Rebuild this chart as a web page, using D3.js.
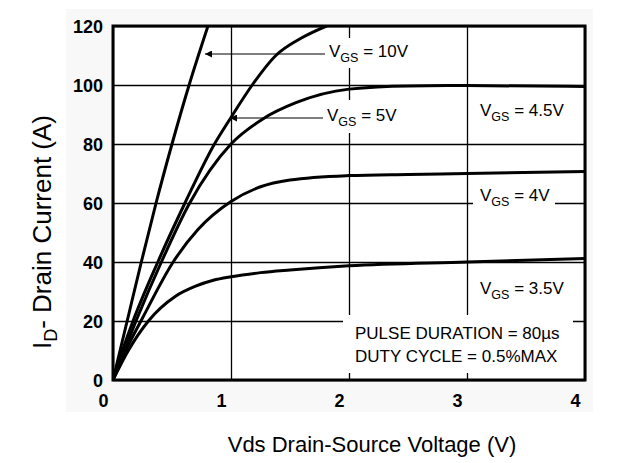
<!DOCTYPE html>
<html><head><meta charset="utf-8">
<script src="https://cdn.jsdelivr.net/npm/d3@7"></script>
<style>body{margin:0;background:#fff}svg{display:block}text{font-family:"Liberation Sans",Arial,sans-serif}</style>
</head><body><svg id="c" width="628" height="463"></svg>
<script>
// ---- data ----
const xTicks = [0, 1, 2, 3, 4];
const yTicks = [0, 20, 40, 60, 80, 100, 120];
const vds10 = [0, 0.12, 0.24, 0.365, 0.50, 0.645, 0.805];
const id10  = [0, 20, 40, 60, 80, 100, 120];
const vds5  = [0, 0.08, 0.17, 0.38, 0.61, 0.86, 1.0, 1.18, 1.38, 1.6, 1.81];
const id5   = [0, 10, 20, 40, 60, 80, 89, 100, 110, 116, 120];
const vds45 = [0, 0.1, 0.2, 0.41, 0.65, 1.0, 1.27, 1.55, 2.0, 2.5, 3.0, 4.0];
const id45  = [0, 10.5, 20.5, 40, 60, 80, 88.5, 94, 98.6, 99.7, 99.8, 99.5];
const vds4  = [0, 0.12, 0.25, 0.51, 0.72, 1.0, 1.25, 1.5, 2.0, 2.5, 3.0, 4.0];
const id4   = [0, 11, 21, 40, 51, 60.5, 65.5, 67.8, 69.3, 69.7, 70.0, 70.7];
const vds35 = [0, 0.13, 0.30, 0.53, 0.70, 0.85, 1.0, 1.25, 1.5, 2.0, 3.0, 4.0];
const id35  = [0, 10, 20, 28.4, 31.8, 33.8, 35.0, 36.4, 37.3, 38.7, 40.0, 41.2];
const seriesNames = ["10V", "5V", "4.5V", "4V", "3.5V"];
const xTitle = "Vds Drain-Source Voltage (V)";
const yTitleMain = "I", yTitleSub = "D", yTitleRest = "- Drain Current (A)";
const noteLines = ["PULSE DURATION = 80\u00b5s", "DUTY CYCLE = 0.5%MAX"];

const svg = d3.select("#c");
const L = 113, R = 585, T = 26, B = 380;
const x = d3.scaleLinear().domain([0, 4]).range([L, R]);
const y = d3.scaleLinear().domain([0, 120]).range([B, T]);

// light scanned background
svg.append("rect").attr("x", 66).attr("y", 9).attr("width", 527).attr("height", 403).attr("fill", "#f8f8f8");
svg.append("rect").attr("x", L).attr("y", T).attr("width", R - L).attr("height", B - T).attr("fill", "#fff");

// grid
const gx = svg.append("g").attr("transform", `translate(0,${B})`)
  .call(d3.axisBottom(x).tickValues(xTicks).tickSize(-(B - T)).tickFormat(""));
gx.select(".domain").remove();
gx.selectAll("line").attr("stroke", "#000").attr("stroke-width", 1.3);
const gy = svg.append("g").attr("transform", `translate(${L},0)`)
  .call(d3.axisLeft(y).tickValues(yTicks).tickSize(-(R - L)).tickFormat(""));
gy.select(".domain").remove();
gy.selectAll("line").attr("stroke", "#000").attr("stroke-width", 1.3);

// curves
svg.append("clipPath").attr("id", "clip").append("rect").attr("x", L).attr("y", T).attr("width", R - L).attr("height", B - T);
const line = d3.line().x(d => x(d[0])).y(d => y(d[1])).curve(d3.curveMonotoneX);
const sets = [[vds10, id10], [vds5, id5], [vds45, id45], [vds4, id4], [vds35, id35]];
const cg = svg.append("g").attr("clip-path", "url(#clip)");
sets.forEach(([vx, vy]) => {
  cg.append("path").datum(vx.map((v, i) => [v, vy[i]]))
    .attr("d", line).attr("fill", "none").attr("stroke", "#000").attr("stroke-width", 3)
    .attr("stroke-linejoin", "round");
});

// white label backgrounds (break gridlines)
const boxes = [[325, 38, 95, 30], [322, 100, 90, 33], [473, 183, 82, 26], [343, 315, 230, 58]];
boxes.forEach(b => svg.append("rect").attr("x", b[0]).attr("y", b[1]).attr("width", b[2]).attr("height", b[3]).attr("fill", "#fff"));

// frame
svg.append("rect").attr("x", L).attr("y", T).attr("width", R - L).attr("height", B - T)
  .attr("fill", "none").attr("stroke", "#000").attr("stroke-width", 3);

// arrows
const defs = svg.append("defs");
defs.append("marker").attr("id", "ah").attr("viewBox", "0 0 10 10").attr("refX", 10).attr("refY", 5)
  .attr("markerWidth", 10).attr("markerHeight", 7).attr("markerUnits", "userSpaceOnUse").attr("orient", "auto")
  .append("path").attr("d", "M0,0L10,5L0,10Z").attr("fill", "#000");
[[325, 205, 54], [323, 230, 118]].forEach(a => {
  svg.append("line").attr("x1", a[0]).attr("x2", a[1]).attr("y1", a[2]).attr("y2", a[2])
    .attr("stroke", "#000").attr("stroke-width", 1.2).attr("marker-end", "url(#ah)");
});

// VGS labels
const labelPos = [[329, 57], [327, 121], [480, 116], [480, 201], [480, 294]];
seriesNames.forEach((n, i) => {
  const t = svg.append("text").attr("x", labelPos[i][0]).attr("y", labelPos[i][1]).attr("font-size", 17).attr("fill", "#000");
  t.append("tspan").text("V");
  t.append("tspan").attr("dy", 5).attr("font-size", 12.5).text("GS");
  t.append("tspan").attr("dy", -5).text(" = " + n);
});

// note
noteLines.forEach((s, i) => svg.append("text").attr("x", 355).attr("y", 339 + i * 23).attr("font-size", 17).text(s));

// tick labels
const ax = svg.append("g").attr("transform", `translate(0,${B})`)
  .call(d3.axisBottom(x).tickValues(xTicks).tickSize(0).tickPadding(0).tickFormat(d3.format("d")));
ax.select(".domain").remove();
ax.selectAll("text").attr("dx", -10).attr("y", 27).attr("dy", 0).attr("font-size", 18).attr("font-weight", "bold").attr("font-family", "Liberation Sans, Arial, sans-serif").attr("fill", "#000");
const ay = svg.append("g").attr("transform", `translate(${L},0)`)
  .call(d3.axisLeft(y).tickValues(yTicks).tickSize(0).tickPadding(10).tickFormat(d3.format("d")));
ay.select(".domain").remove();
ay.selectAll("text").attr("dy", "0.35em").attr("font-size", 18).attr("font-weight", "bold").attr("font-family", "Liberation Sans, Arial, sans-serif").attr("fill", "#000");

// axis titles
svg.append("text").attr("x", 372).attr("y", 452).attr("text-anchor", "middle").attr("font-size", 22).text(xTitle);
const yt = svg.append("text").attr("transform", "translate(51,232) rotate(-90)").attr("text-anchor", "middle").attr("font-size", 26);
yt.append("tspan").text(yTitleMain);
yt.append("tspan").attr("dy", 6).attr("font-size", 18).text(yTitleSub);
yt.append("tspan").attr("dy", -6).text(yTitleRest);
</script></body></html>
